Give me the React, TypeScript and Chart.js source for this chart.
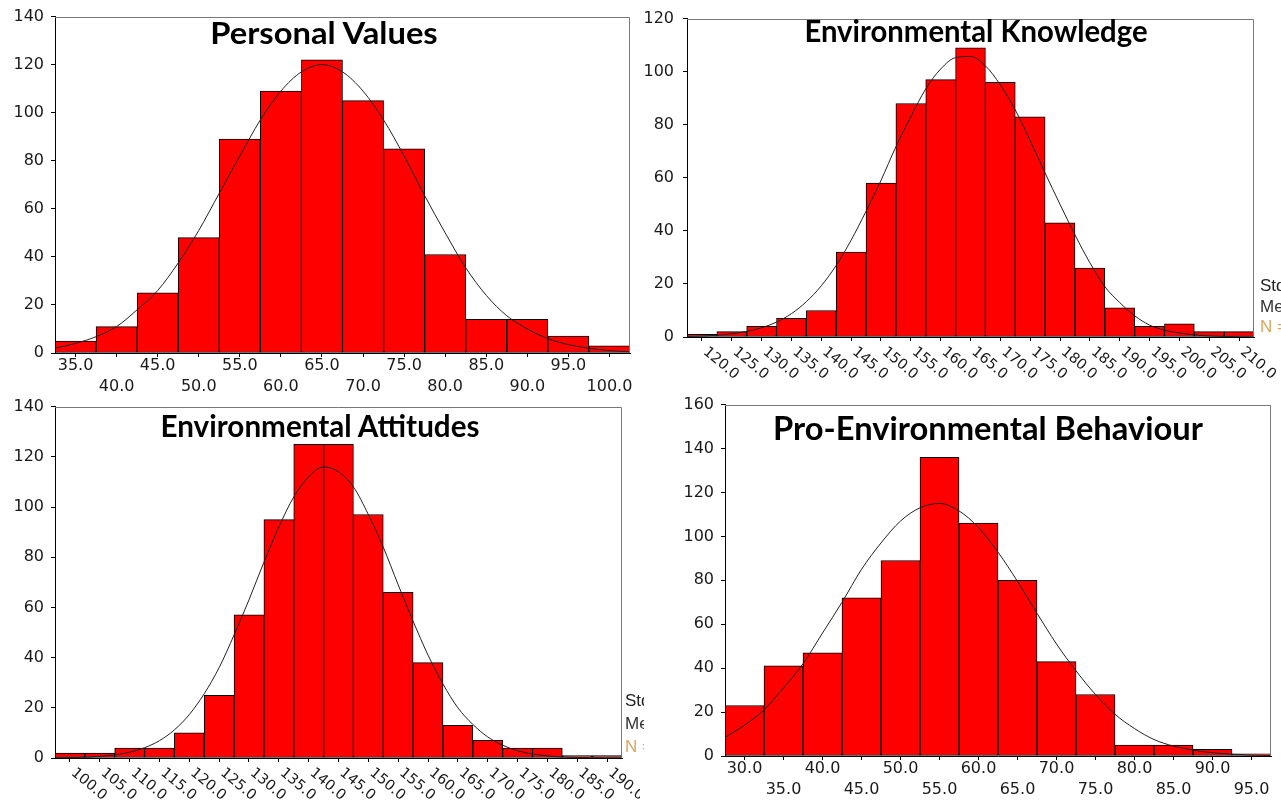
import React, { useEffect, useLayoutEffect, useRef } from 'react';
import { Chart, registerables } from 'chart.js';

Chart.register(...registerables);

// ---------------- Personal Values ----------------
const pvBins = [35, 40, 45, 50, 55, 60, 65, 70, 75, 80, 85, 90, 95, 100];
const pvCounts = [5, 11, 25, 48, 89, 109, 122, 105, 85, 41, 14, 14, 7, 3];
const pvLabels = ['35.0', '40.0', '45.0', '50.0', '55.0', '60.0', '65.0', '70.0', '75.0', '80.0', '85.0', '90.0', '95.0', '100.0'];
const pvRange = [32.5, 102.5];
const pvYTicks = [0, 20, 40, 60, 80, 100, 120, 140];
const pvCurveX = [32.5, 35, 37.5, 40, 42.5, 45, 47.5, 50, 52.5, 55, 57.5, 60, 62.5, 65, 67.5, 70, 72.5, 75, 77.5, 80, 82.5, 85, 87.5, 90, 92.5, 95, 97.5, 100, 102.5];
const pvCurveY = [2, 4, 6.8, 11, 18, 26, 37.5, 51, 66.5, 82, 97, 109, 117, 120, 117, 109, 97, 82, 65.5, 50, 35.5, 24, 15.5, 10, 6, 3.5, 2, 1, 0.5];

// ---------------- Environmental Knowledge ----------------
const ekBins = [120, 125, 130, 135, 140, 145, 150, 155, 160, 165, 170, 175, 180, 185, 190, 195, 200, 205, 210];
const ekCounts = [1, 2, 4, 7, 10, 32, 58, 88, 97, 109, 96, 83, 43, 26, 11, 4, 5, 2, 2];
const ekLabels = ['120.0', '125.0', '130.0', '135.0', '140.0', '145.0', '150.0', '155.0', '160.0', '165.0', '170.0', '175.0', '180.0', '185.0', '190.0', '195.0', '200.0', '205.0', '210.0'];
const ekRange = [117.5, 212.5];
const ekYTicks = [0, 20, 40, 60, 80, 100, 120];
const ekCurveX = [117.5, 120, 122.5, 125, 127.5, 130, 132.5, 135, 137.5, 140, 142.5, 145, 147.5, 150, 152.5, 155, 157.5, 160, 162.5, 165, 167.5, 170, 172.5, 175, 177.5, 180, 182.5, 185, 187.5, 190, 192.5, 195, 197.5, 200, 202.5, 205, 207.5, 210, 212.5];
const ekCurveY = [0.2, 0.35, 0.65, 1.2, 2.1, 3.5, 5.6, 8.8, 13.3, 19.3, 27, 36.5, 47.4, 59, 71.7, 83, 93.5, 101, 105.3, 105.7, 102.2, 95, 85.6, 74, 61.8, 50, 38.5, 28, 19, 13, 8, 4.5, 2.6, 1.5, 0.8, 0.4, 0.2, 0.1, 0.05];

// ---------------- Environmental Attitudes ----------------
const eaBins = [100, 105, 110, 115, 120, 125, 130, 135, 140, 145, 150, 155, 160, 165, 170, 175, 180, 185, 190];
const eaCounts = [2, 2, 4, 4, 10, 25, 57, 95, 125, 125, 97, 66, 38, 13, 7, 4, 4, 1, 1];
const eaLabels = ['100.0', '105.0', '110.0', '115.0', '120.0', '125.0', '130.0', '135.0', '140.0', '145.0', '150.0', '155.0', '160.0', '165.0', '170.0', '175.0', '180.0', '185.0', '190.0'];
const eaRange = [97.5, 192.5];
const eaYTicks = [0, 20, 40, 60, 80, 100, 120, 140];
const eaCurveX = [97.5, 100, 102.5, 105, 107.5, 110, 112.5, 115, 117.5, 120, 122.5, 125, 127.5, 130, 132.5, 135, 137.5, 140, 142.5, 145, 147.5, 150, 152.5, 155, 157.5, 160, 162.5, 165, 167.5, 170, 172.5, 175, 177.5, 180, 182.5, 185, 187.5, 190, 192.5];
const eaCurveY = [0.07, 0.15, 0.3, 0.65, 1.25, 2.3, 4.1, 6.9, 11.2, 17.3, 25.6, 36, 49, 63, 78, 92, 104, 112, 116, 114, 108, 97, 84, 69, 54.5, 41, 29.5, 20, 13.4, 8.4, 5.1, 2.9, 1.6, 0.85, 0.4, 0.2, 0.1, 0.05, 0.02];

// ---------------- Pro-Environmental Behaviour ----------------
const pebBins = [30, 35, 40, 45, 50, 55, 60, 65, 70, 75, 80, 85, 90, 95];
const pebCounts = [23, 41, 47, 72, 89, 136, 106, 80, 43, 28, 5, 5, 3, 1];
const pebLabels = ['30.0', '35.0', '40.0', '45.0', '50.0', '55.0', '60.0', '65.0', '70.0', '75.0', '80.0', '85.0', '90.0', '95.0'];
const pebRange = [27.5, 97.5];
const pebYTicks = [0, 20, 40, 60, 80, 100, 120, 140, 160];
const pebCurveX = [27.5, 30, 32.5, 35, 37.5, 40, 42.5, 45, 47.5, 50, 52.5, 55, 57.5, 60, 62.5, 65, 67.5, 70, 72.5, 75, 77.5, 80, 82.5, 85, 87.5, 90, 92.5, 95, 97.5];
const pebCurveY = [8.5, 14, 21, 31, 42, 56, 70, 85, 97, 107, 113, 115, 111.6, 104, 92.8, 79.5, 65, 51, 38.8, 28, 19, 12.5, 7.5, 4.5, 2.7, 1.5, 0.8, 0.4, 0.2];

const TICK_FONT = '"DejaVu Sans", "Liberation Sans", sans-serif';
const TITLE_FONT = '"Lato", "Open Sans", sans-serif';
const TEXT_COLOR = '#1a1a1a';

type Box = { left: number; top: number; width: number; height: number };
type Area = { left: number; top: number; right: number; bottom: number };
type PanelSpec = {
  bins: number[]; counts: number[]; labels: string[]; range: number[]; yTicks: number[];
  curveX: number[]; curveY: number[]; mode: 'stagger' | 'rotate'; box: Box; area: Area; yPad: number;
};

const panels: PanelSpec[] = [
  { bins: pvBins, counts: pvCounts, labels: pvLabels, range: pvRange, yTicks: pvYTicks, curveX: pvCurveX, curveY: pvCurveY, mode: 'stagger',
    box: { left: 0, top: 0, width: 640, height: 400 }, area: { left: 55, top: 15, right: 630, bottom: 353 }, yPad: 7 },
  { bins: ekBins, counts: ekCounts, labels: ekLabels, range: ekRange, yTicks: ekYTicks, curveX: ekCurveX, curveY: ekCurveY, mode: 'rotate',
    box: { left: 640, top: 0, width: 641, height: 392 }, area: { left: 687, top: 16, right: 1254, bottom: 337 }, yPad: 9 },
  { bins: eaBins, counts: eaCounts, labels: eaLabels, range: eaRange, yTicks: eaYTicks, curveX: eaCurveX, curveY: eaCurveY, mode: 'rotate',
    box: { left: 0, top: 390, width: 640, height: 411 }, area: { left: 55, top: 401, right: 622, bottom: 758 }, yPad: 7 },
  { bins: pebBins, counts: pebCounts, labels: pebLabels, range: pebRange, yTicks: pebYTicks, curveX: pebCurveX, curveY: pebCurveY, mode: 'stagger',
    box: { left: 640, top: 388, width: 641, height: 413 }, area: { left: 725, top: 399, right: 1271, bottom: 756 }, yPad: 7 },
];

function makeConfig(p: PanelSpec): any {
  const yW = p.area.left - p.box.left;
  const padTop = p.area.top - p.box.top;
  const padRight = p.box.left + p.box.width - p.area.right;
  const xH = p.box.top + p.box.height - p.area.bottom;

  const framePlugin = {
    id: 'frame',
    afterDraw(chart: any) {
      const { ctx, chartArea } = chart;
      ctx.save();
      ctx.strokeStyle = '#777';
      ctx.lineWidth = 1;
      ctx.beginPath();
      const t = Math.round(chartArea.top) + 0.5;
      const r = Math.round(chartArea.right) - 0.5;
      ctx.moveTo(chartArea.left, t);
      ctx.lineTo(r, t);
      ctx.lineTo(r, chartArea.bottom);
      ctx.stroke();
      ctx.restore();
    },
  };

  const rotPlugin = {
    id: 'rotLabels',
    afterDraw(chart: any) {
      if (p.mode !== 'rotate') return;
      const xs = chart.scales.x;
      const ctx = chart.ctx;
      ctx.save();
      ctx.font = `14.5px ${TICK_FONT}`;
      ctx.fillStyle = TEXT_COLOR;
      ctx.textAlign = 'left';
      ctx.textBaseline = 'middle';
      p.bins.forEach((v, i) => {
        const px = xs.getPixelForValue(v);
        ctx.save();
        ctx.translate(px + 3, xs.top + 13);
        ctx.rotate((40 * Math.PI) / 180);
        ctx.fillText(p.labels[i], 0, 0);
        ctx.restore();
      });
      ctx.restore();
    },
  };

  return {
    type: 'bar',
    data: {
      datasets: [
        {
          type: 'line',
          data: p.curveX.map((x, i) => ({ x, y: p.curveY[i] })),
          borderColor: '#222',
          borderWidth: 1,
          pointRadius: 0,
          tension: 0.4,
          cubicInterpolationMode: 'monotone',
          fill: false,
          order: 0,
        },
        {
          type: 'bar',
          data: p.bins.map((x, i) => ({ x, y: p.counts[i] })),
          backgroundColor: '#ff0000',
          borderColor: '#000',
          borderWidth: 1,
          borderSkipped: false,
          barPercentage: 1,
          categoryPercentage: 1,
          order: 1,
        },
      ],
    },
    options: {
      animation: false,
      responsive: false,
      maintainAspectRatio: false,
      events: [],
      layout: { padding: { top: padTop, right: padRight, left: 0, bottom: 0 } },
      plugins: { legend: { display: false }, tooltip: { enabled: false }, title: { display: false } },
      scales: {
        x: {
          type: 'linear',
          min: p.range[0],
          max: p.range[1],
          offset: false,
          afterBuildTicks: (s: any) => { s.ticks = p.bins.map((v) => ({ value: v })); },
          afterFit: (s: any) => { s.height = xH; },
          ticks: {
            display: p.mode === 'stagger',
            autoSkip: false,
            maxRotation: 0,
            minRotation: 0,
            padding: -1,
            color: TEXT_COLOR,
            font: { family: TICK_FONT, size: 16, lineHeight: 1.27 },
            callback: (_v: any, i: number) => (i % 2 === 0 ? [p.labels[i], ''] : ['', p.labels[i]]),
          },
          grid: { offset: false, drawOnChartArea: false, drawTicks: true, tickLength: 4, color: '#000' },
          border: { display: true, color: '#000', width: 1 },
        },
        y: {
          min: 0,
          max: p.yTicks[p.yTicks.length - 1],
          afterBuildTicks: (s: any) => { s.ticks = p.yTicks.map((v) => ({ value: v })); },
          afterFit: (s: any) => { s.width = yW; },
          ticks: { color: TEXT_COLOR, padding: p.yPad, font: { family: TICK_FONT, size: 16 } },
          grid: { drawOnChartArea: false, drawTicks: true, tickLength: 4, color: '#000' },
          border: { display: true, color: '#000', width: 1 },
        },
      },
    },
    plugins: [framePlugin, rotPlugin],
  };
}

function Panel({ spec }: { spec: PanelSpec }) {
  const ref = useRef<HTMLCanvasElement>(null);
  useEffect(() => {
    if (!ref.current) return;
    const chart = new Chart(ref.current, makeConfig(spec));
    return () => chart.destroy();
  }, [spec]);
  return (
    <canvas
      ref={ref}
      width={spec.box.width}
      height={spec.box.height}
      style={{ position: 'absolute', left: spec.box.left, top: spec.box.top, width: spec.box.width, height: spec.box.height }}
    />
  );
}

function Title({ text, cx, capTop, fontSize, width }: { text: string; cx: number; capTop: number; fontSize: number; width: number }) {
  const ref = useRef<HTMLDivElement>(null);
  useLayoutEffect(() => {
    const el = ref.current;
    if (!el) return;
    const w = el.offsetWidth;
    if (w > 0) el.style.transform = `translateX(-50%) scaleX(${width / w})`;
  }, [text, width, fontSize]);
  return (
    <div
      ref={ref}
      style={{
        position: 'absolute', left: cx, top: capTop - 0.17 * fontSize, fontFamily: TITLE_FONT, fontWeight: 700,
        fontSize, lineHeight: 1, whiteSpace: 'nowrap', color: '#000', transform: 'translateX(-50%)', transformOrigin: 'center',
      }}
    >
      {text}
    </div>
  );
}

function SideText({ left, top, lineH, clip }: { left: number; top: number; lineH: number; clip: number }) {
  const st: React.CSSProperties = { height: lineH, lineHeight: `${lineH}px`, whiteSpace: 'nowrap' };
  return (
    <div style={{ position: 'absolute', left, top, width: clip, overflow: 'hidden', fontFamily: '"Liberation Sans", Arial, sans-serif', fontSize: 17 }}>
      <div style={{ ...st, color: '#222' }}>Std. Dev</div>
      <div style={{ ...st, color: '#333' }}>Mean</div>
      <div style={{ ...st, color: '#d9a860' }}>N =</div>
    </div>
  );
}

export default function App() {
  return (
    <div style={{ position: 'absolute', left: 0, top: 0, width: 1281, height: 801, background: '#fff', overflow: 'hidden' }}>
      {panels.map((p, i) => (
        <Panel key={i} spec={p} />
      ))}
      <Title text="Personal Values" cx={324} capTop={22} fontSize={31} width={228} />
      <Title text="Environmental Knowledge" cx={976} capTop={20} fontSize={31} width={343} />
      <Title text="Environmental Attitudes" cx={320} capTop={415} fontSize={30} width={319} />
      <Title text="Pro-Environmental Behaviour" cx={988} capTop={417} fontSize={33} width={430} />
      <SideText left={1260} top={276} lineH={20.5} clip={40} />
      <SideText left={625} top={689} lineH={23} clip={19} />
    </div>
  );
}
